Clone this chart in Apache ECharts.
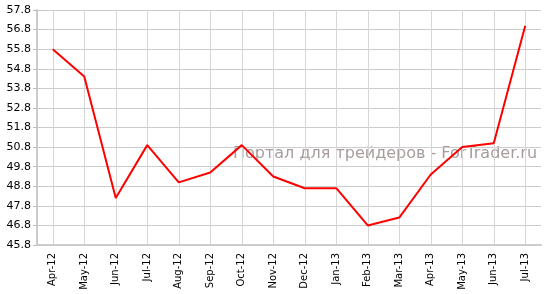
<!DOCTYPE html>
<html><head><meta charset="utf-8">
<script src="https://cdn.jsdelivr.net/npm/echarts@6/dist/echarts.min.js"></script>
<style>html,body{margin:0;padding:0;background:#fff}#c{width:549px;height:294px}</style>
</head><body><div id="c"></div>
<script>
const categories = ['Apr-12','May-12','Jun-12','Jul-12','Aug-12','Sep-12','Oct-12','Nov-12','Dec-12','Jan-13','Feb-13','Mar-13','Apr-13','May-13','Jun-13','Jul-13'];
const values = [55.8, 54.4, 48.2, 50.9, 49.0, 49.5, 50.9, 49.3, 48.7, 48.7, 46.8, 47.2, 49.4, 50.8, 51.0, 57.0];
const yMin = 45.8, yMax = 57.8, yStep = 1;
const watermark = 'Портал для трейдеров - ForTrader.ru';

const chart = echarts.init(document.getElementById('c'), null, {renderer:'canvas'});
chart.setOption({
  animation: false,
  grid: {left: 37, right: 8, top: 10, bottom: 49, containLabel: false},
  graphic: [{
    type: 'text', left: 233, top: 146, z: 0,
    style: {text: watermark, font: '16px "DejaVu Sans"', fill: '#a89c9c'}
  }],
  xAxis: {
    type: 'category', data: categories, boundaryGap: true,
    axisLine: {lineStyle: {color: '#cccccc', width: 2}},
    axisTick: {alignWithLabel: true, length: 4, lineStyle: {color: '#bbbbbb'}},
    axisLabel: {rotate: 90, interval: 0, fontFamily: 'DejaVu Sans', fontSize: 10, color: '#000', margin: 8},
    splitLine: {show: true, alignWithLabel: true, lineStyle: {color: '#d6d6d6', width: 1}}
  },
  yAxis: {
    type: 'value', min: yMin, max: yMax, interval: yStep,
    axisLine: {show: true, lineStyle: {color: '#cccccc', width: 2}},
    axisTick: {show: true, length: 4, lineStyle: {color: '#bbbbbb'}},
    axisLabel: {fontFamily: 'DejaVu Sans', fontSize: 11, color: '#000', margin: 6,
      formatter: v => v.toFixed(1)},
    splitLine: {show: true, lineStyle: {color: '#cccccc', width: 1}}
  },
  series: [{
    type: 'line', data: values, symbol: 'none', z: 3,
    lineStyle: {color: '#ff0000', width: 2}
  }]
});
</script></body></html>
